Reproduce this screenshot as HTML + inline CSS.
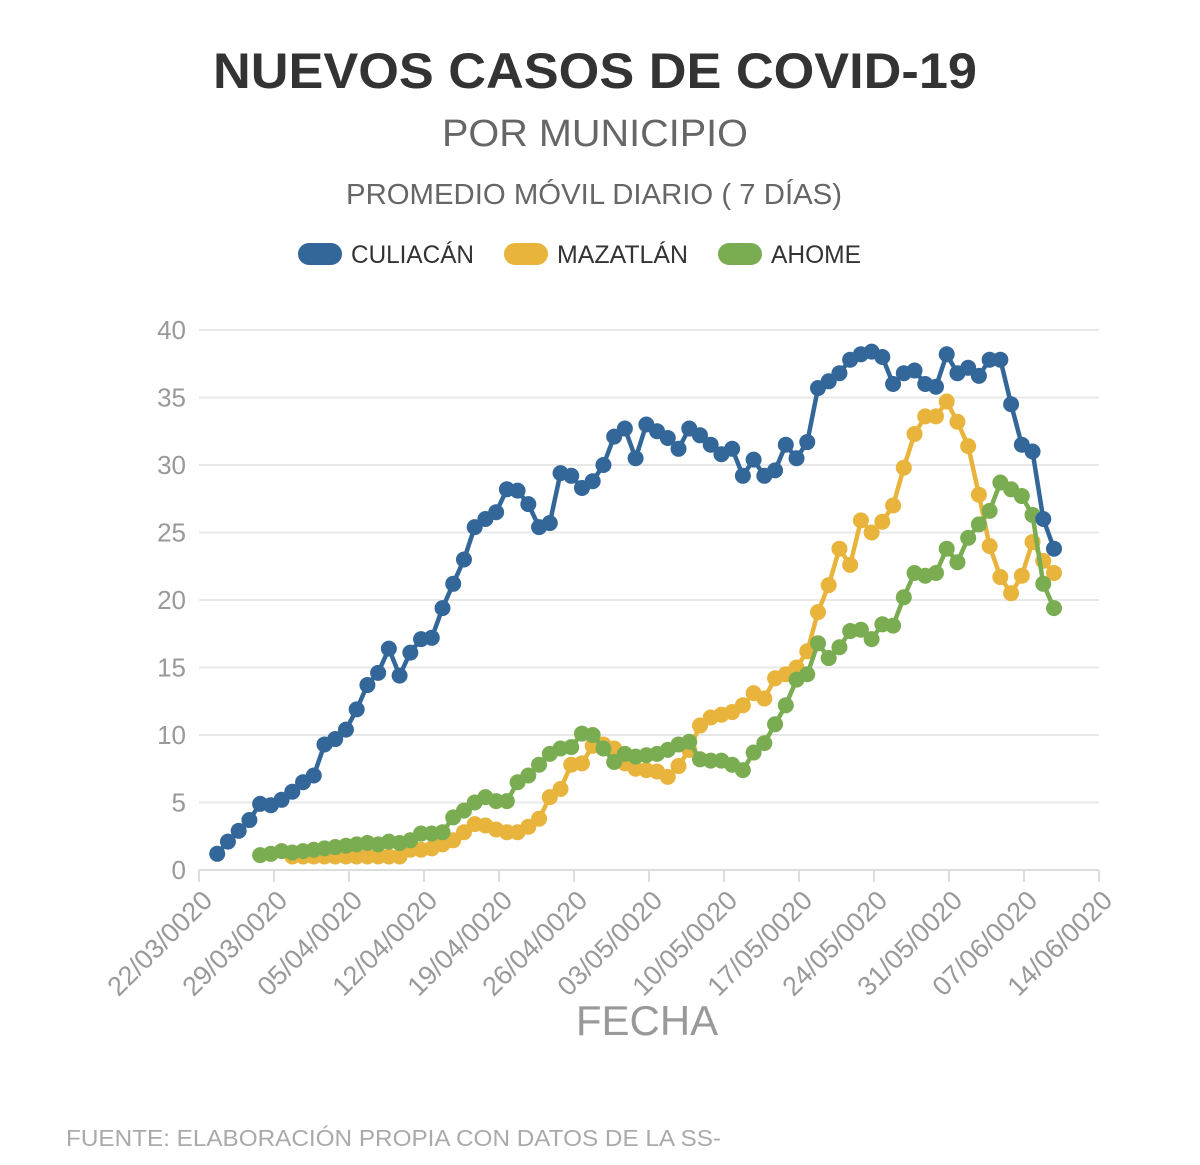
<!DOCTYPE html>
<html><head><meta charset="utf-8"><style>
html,body{margin:0;padding:0;background:#fff;}
svg{display:block;font-family:"Liberation Sans",sans-serif;}
</style></head><body>
<svg id="chart" width="1200" height="1165" viewBox="0 0 1200 1165">
<text x="595" y="88" text-anchor="middle" font-size="50" font-weight="bold" fill="#333" textLength="764" lengthAdjust="spacingAndGlyphs">NUEVOS CASOS DE COVID-19</text>
<text x="595" y="146" text-anchor="middle" font-size="38" fill="#666" textLength="306" lengthAdjust="spacingAndGlyphs">POR MUNICIPIO</text>
<text x="594" y="204" text-anchor="middle" font-size="29" fill="#666" textLength="496" lengthAdjust="spacingAndGlyphs">PROMEDIO MÓVIL DIARIO ( 7 DÍAS)</text>
<g>
<rect x="298" y="243" width="44" height="22" rx="11" fill="#336699"/>
<text x="351" y="263" font-size="25" fill="#333" textLength="123" lengthAdjust="spacingAndGlyphs">CULIACÁN</text>
<rect x="504" y="243" width="44" height="22" rx="11" fill="#e8b43c"/>
<text x="557" y="263" font-size="25" fill="#333" textLength="131" lengthAdjust="spacingAndGlyphs">MAZATLÁN</text>
<rect x="718" y="243" width="44" height="22" rx="11" fill="#7aad51"/>
<text x="771" y="263" font-size="25" fill="#333" textLength="90" lengthAdjust="spacingAndGlyphs">AHOME</text>
</g>
<g id="grid"></g><g id="axes"></g><g id="series"></g>
<text x="647" y="1035" text-anchor="middle" font-size="42" fill="#999">FECHA</text>
<text x="66" y="1146" font-size="23" fill="#aaa" textLength="655" lengthAdjust="spacingAndGlyphs">FUENTE: ELABORACIÓN PROPIA CON DATOS DE LA SS-</text>
</svg>
<script>
const yTicks=[0,5,10,15,20,25,30,35,40];
const xTickLabels=["22/03/0020","29/03/0020","05/04/0020","12/04/0020","19/04/0020","26/04/0020","03/05/0020","10/05/0020","17/05/0020","24/05/0020","31/05/0020","07/06/0020","14/06/0020"];
const culiacanStart=0;
const culiacan=[1.2,2.1,2.9,3.7,4.9,4.8,5.2,5.8,6.5,7.0,9.3,9.7,10.4,11.9,13.7,14.6,16.4,14.4,16.1,17.1,17.2,19.4,21.2,23.0,25.4,26.0,26.5,28.2,28.1,27.1,25.4,25.7,29.4,29.2,28.3,28.8,30.0,32.1,32.7,30.5,33.0,32.5,32.0,31.2,32.7,32.2,31.5,30.8,31.2,29.2,30.4,29.2,29.6,31.5,30.5,31.7,35.7,36.2,36.8,37.8,38.2,38.4,38.0,36.0,36.8,37.0,36.0,35.8,38.2,36.8,37.2,36.6,37.8,37.8,34.5,31.5,31.0,26.0,23.8];
const ahomeStart=4;
const ahome=[1.1,1.2,1.4,1.3,1.4,1.5,1.6,1.7,1.8,1.9,2.0,1.9,2.1,2.0,2.2,2.7,2.7,2.8,3.9,4.4,5.0,5.4,5.1,5.1,6.5,7.0,7.8,8.6,9.0,9.1,10.1,10.0,9.0,8.0,8.6,8.4,8.5,8.6,8.9,9.3,9.5,8.2,8.1,8.1,7.8,7.4,8.7,9.4,10.8,12.2,14.1,14.5,16.8,15.7,16.5,17.7,17.8,17.1,18.2,18.1,20.2,22.0,21.8,22.0,23.8,22.8,24.6,25.6,26.6,28.7,28.2,27.7,26.3,21.2,19.4];
const mazatlanStart=7;
const mazatlan=[1.0,1.0,1.0,1.0,1.0,1.0,1.0,1.0,1.0,1.0,1.0,1.5,1.5,1.6,1.9,2.2,2.8,3.4,3.3,3.0,2.8,2.8,3.2,3.8,5.4,6.0,7.8,7.9,9.2,9.3,9.0,7.9,7.5,7.4,7.3,6.9,7.7,8.9,10.7,11.3,11.5,11.7,12.2,13.1,12.7,14.2,14.5,15.0,16.2,19.1,21.1,23.8,22.6,25.9,25.0,25.8,27.0,29.8,32.3,33.6,33.6,34.7,33.2,31.4,27.8,24.0,21.7,20.5,21.8,24.3,22.9,22.0];
const NS="http://www.w3.org/2000/svg";
const X0=199,X1=1099,Y0=870,Y1=330;
function yScale(v){return Y0-(v/40)*(Y0-Y1);}
function dayX(d){return X0+d*(X1-X0)/84;}
function idxX(i){return dayX(1.7)+i*(1054-dayX(1.7))/78;}
function mk(tag,attrs,parent){const e=document.createElementNS(NS,tag);for(const k in attrs)e.setAttribute(k,attrs[k]);parent.appendChild(e);return e;}
const grid=document.getElementById('grid'),axes=document.getElementById('axes'),series=document.getElementById('series');
yTicks.forEach(v=>{
  const l=mk('line',{x1:X0,x2:X1,y1:yScale(v),y2:yScale(v),stroke:v===0?'#ddd':'#e8e8e8','stroke-width':2},grid);
  
  
  const t=mk('text',{x:186,y:yScale(v)+9,'text-anchor':'end','font-size':26,fill:'#999'},axes);
  t.textContent=v;
  
  
});
xTickLabels.forEach((lab,i)=>{
  const x=dayX(i*7);
  const tk=mk('line',{x1:x,x2:x,y1:Y0,y2:Y0+12,stroke:'#ddd','stroke-width':2},axes);
  
  
  const ax=x+15,ay=Y0+32;
  const t=mk('text',{x:ax,y:ay,'text-anchor':'end','font-size':27,fill:'#999',transform:'rotate(-45 '+ax+' '+ay+')'},axes);
  t.textContent=lab;
  
  
});
function draw(vals,start,color,name){
  const g=mk('g',{},series);
  
  
  const pts=vals.map((v,i)=>idxX(start+i).toFixed(1)+','+yScale(v).toFixed(1)).join(' ');
  const pl=mk('polyline',{points:pts,fill:'none',stroke:color,'stroke-width':4.5,'stroke-linejoin':'round'},g);
  
  
  vals.forEach((v,i)=>{
    const c=mk('circle',{cx:idxX(start+i),cy:yScale(v),r:8,fill:color},g);
    
    
  });
}
draw(mazatlan,mazatlanStart,'#e8b43c','mazatlan');
draw(ahome,ahomeStart,'#7aad51','ahome');
draw(culiacan,culiacanStart,'#336699','culiacan');
</script>
</body></html>
